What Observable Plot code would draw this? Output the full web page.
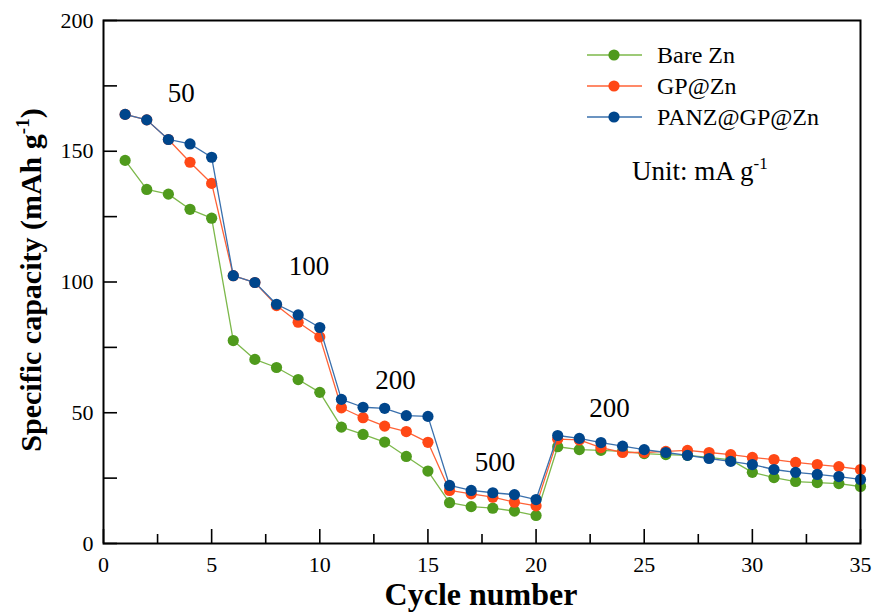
<!DOCTYPE html>
<html>
<head>
<meta charset="utf-8">
<script src="https://cdn.jsdelivr.net/npm/d3@7"></script>
<script src="https://cdn.jsdelivr.net/npm/@observablehq/plot@0.6"></script>
<style>
  html, body { margin: 0; padding: 0; background: #fff; }
  #chart svg { display: block; }
</style>
</head>
<body>
<div id="chart"></div>
<script>
// Rate performance: specific capacity per cycle at stepped current densities
const cycles = [1,2,3,4,5,6,7,8,9,10,11,12,13,14,15,16,17,18,19,20,21,22,23,24,25,26,27,28,29,30,31,32,33,34,35];
const bareZn = [146.5,135.4,133.6,127.8,124.4,77.6,70.4,67.3,62.7,57.8,44.5,41.7,38.8,33.3,27.7,15.6,14.1,13.5,12.4,10.7,37.0,35.9,35.6,35.2,34.4,34.0,33.7,32.9,32.0,27.2,25.2,23.7,23.3,22.9,21.8];
const gpZn = [164.1,162.0,154.5,145.8,137.7,102.4,99.8,91.0,84.6,79.0,51.9,48.1,44.9,42.8,38.7,20.3,19.0,17.7,15.8,14.4,39.9,39.6,36.7,34.8,34.8,35.2,35.6,34.8,34.0,32.9,32.1,31.0,30.2,29.4,28.3];
const panzGpZn = [164.1,162.0,154.5,152.8,147.7,102.4,99.8,91.5,87.4,82.6,55.1,52.1,51.7,48.9,48.6,22.2,20.3,19.4,18.7,16.8,41.3,40.2,38.6,37.2,35.9,34.8,33.7,32.5,31.4,30.2,28.3,27.2,26.4,25.6,24.5];

const seriesNames = ["Bare Zn", "GP@Zn", "PANZ@GP@Zn"];
const dotColors = ["#4f9a1c", "#ff4816", "#00468c"];
const lineColors = ["#7cb84a", "#ff6236", "#3a70ad"];

// Current density labels (mA g-1) placed over each step
const rateLabels = ["50", "100", "200", "500", "200"];
const rateLabelCycle = [3.6, 9.5, 13.5, 18.1, 23.4];
const rateLabelCapacity = [172, 106, 62.5, 31, 51.5];

const xMajor = [0,5,10,15,20,25,30,35];
const xMinor = [2.5,7.5,12.5,17.5,22.5,27.5,32.5];
const yMajor = [0,50,100,150,200];
const yMinor = [25,75,125,175];

const valuesBySeries = [bareZn, gpZn, panzGpZn];
const rows = [];
valuesBySeries.forEach((vals, s) => {
  vals.forEach((v, i) => rows.push({series: seriesNames[s], cycle: cycles[i], capacity: v}));
});
const labels = rateLabels.map((t, i) => ({text: t, cycle: rateLabelCycle[i], capacity: rateLabelCapacity[i]}));

const font = "'Liberation Serif', 'Times New Roman', serif";

const marks = [];
seriesNames.forEach((name, s) => {
  const data = rows.filter(d => d.series === name);
  marks.push(Plot.line(data, {x: "cycle", y: "capacity", stroke: lineColors[s], strokeWidth: 1.3}));
  marks.push(Plot.dot(data, {x: "cycle", y: "capacity", fill: dotColors[s], r: 5.6, stroke: "none"}));
});

const chart = Plot.plot({
  width: 873,
  height: 612,
  marginLeft: 103,
  marginRight: 13,
  marginTop: 20,
  marginBottom: 69,
  style: {fontFamily: font, fontSize: "22px", color: "#000", background: "#fff", overflow: "visible"},
  x: {domain: [0, 35]},
  y: {domain: [0, 200]},
  marks: [
    Plot.axisX({ticks: xMajor, tickSize: 0, tickPadding: 13, tickFormat: d => String(d), label: null, fontSize: 22, fontFamily: font, fontVariant: "normal"}),
    Plot.axisX({ticks: xMajor, tickSize: -14, text: null, label: null, strokeWidth: 1.6}),
    Plot.axisX({ticks: xMinor, tickSize: -9, text: null, label: null, strokeWidth: 1.6}),
    Plot.axisY({ticks: yMajor, tickSize: 0, tickPadding: 10, tickFormat: d => String(d), label: null, fontSize: 22, fontFamily: font, fontVariant: "normal"}),
    Plot.axisY({ticks: yMajor, tickSize: -14, text: null, label: null, strokeWidth: 1.6}),
    Plot.axisY({ticks: yMinor, tickSize: -14, text: null, label: null, strokeWidth: 1.6}),
    ...marks,
    Plot.text(labels, {x: "cycle", y: "capacity", text: "text", fontSize: 27, fontFamily: font, fill: "#000"}),
    Plot.frame({stroke: "#000", strokeWidth: 2})
  ]
});

document.getElementById("chart").appendChild(chart);

const svg = d3.select(chart);

// Axis titles
svg.append("text")
  .attr("x", 481).attr("y", 605)
  .attr("text-anchor", "middle")
  .attr("font-family", font).attr("font-weight", "bold").attr("font-size", 32)
  .text("Cycle number");

const yTitle = svg.append("text")
  .attr("transform", "translate(41,280) rotate(-90)")
  .attr("text-anchor", "middle")
  .attr("font-family", font).attr("font-weight", "bold").attr("font-size", 30);
yTitle.append("tspan").text("Specific capacity (mAh g");
yTitle.append("tspan").attr("font-size", 19).attr("dy", -12).text("-1");
yTitle.append("tspan").attr("dy", 12).text(")");

// Legend
const legend = svg.append("g").attr("font-family", font).attr("font-size", 24).attr("text-anchor", "start");
const legendY = [55, 86, 117];
seriesNames.forEach((name, s) => {
  const g = legend.append("g").attr("transform", `translate(0,${legendY[s]})`);
  g.append("line").attr("x1", 587).attr("x2", 642).attr("stroke", lineColors[s]).attr("stroke-width", 1.3);
  g.append("circle").attr("cx", 614).attr("r", 5.6).attr("fill", dotColors[s]);
  g.append("text").attr("x", 657).attr("dy", "0.35em").attr("text-anchor", "start").text(name);
});

const unit = svg.append("text")
  .attr("x", 632).attr("y", 180)
  .attr("text-anchor", "start")
  .attr("font-family", font).attr("font-size", 27);
unit.append("tspan").text("Unit: mA g");
unit.append("tspan").attr("font-size", 17).attr("dy", -11).text("-1");
</script>
</body>
</html>
